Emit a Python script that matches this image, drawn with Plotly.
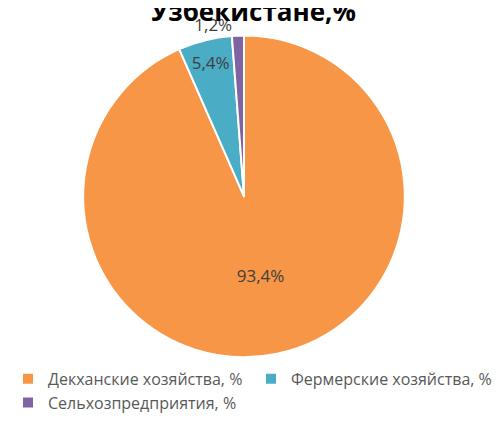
import plotly.graph_objects as go

categories = ["Декханские хозяйства, %", "Фермерские хозяйства, %", "Сельхозпредприятия, %"]
values = [93.4, 5.4, 1.2]
colors = ["#F79646", "#4BACC6", "#8064A2"]
text_positions = ["inside", "inside", "outside"]
title_text = "Узбекистане,%"

labels_text = [f"{v:.1f}".replace(".", ",") + "%" for v in values]

W, H = 501, 423
MB = 71
PH = H - MB

fig = go.Figure()
fig.add_trace(go.Pie(
    labels=categories,
    values=values,
    text=labels_text,
    textinfo="text",
    textposition=text_positions,
    insidetextorientation="horizontal",
    sort=False,
    direction="clockwise",
    rotation=0,
    marker=dict(colors=colors, line=dict(color="white", width=2)),
    textfont=dict(family="Open Sans", size=17, color="#404040"),
    domain=dict(x=[65.5 / W, 406.5 / W], y=[1 - 349 / PH, 1 - 8 / PH]),
    hoverinfo="label+percent",
))

fig.add_annotation(
    text="<b>" + title_text + "</b>",
    xref="paper", yref="paper",
    x=245 / W, y=1 - 3.5 / PH,
    xanchor="center", yanchor="bottom",
    showarrow=False,
    font=dict(family="Open Sans", size=26, color="#000000"),
)

fig.update_layout(
    width=W, height=H,
    margin=dict(l=0, r=0, t=0, b=MB),
    paper_bgcolor="white",
    plot_bgcolor="white",
    showlegend=True,
    legend=dict(
        orientation="h",
        x=0, y=-2 / PH,
        xanchor="left", yanchor="top",
        font=dict(family="Open Sans", size=16, color="#595959"),
        entrywidth=198, entrywidthmode="pixels",
        itemwidth=30,
    ),
)

fig.write_html("out.html")
